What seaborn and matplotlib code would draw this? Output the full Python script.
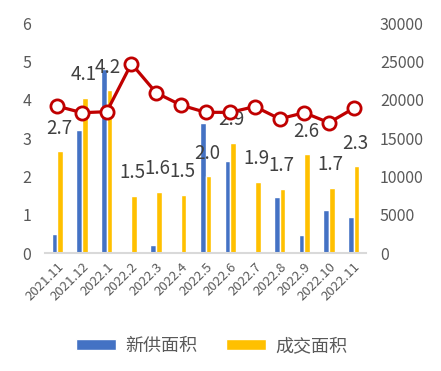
import matplotlib
matplotlib.use("Agg")
import matplotlib.pyplot as plt
import seaborn as sns
import numpy as np
import pandas as pd
from matplotlib.patches import Patch

months = ["2021.11", "2021.12", "2022.1", "2022.2", "2022.3", "2022.4", "2022.5",
          "2022.6", "2022.7", "2022.8", "2022.9", "2022.10", "2022.11"]
new_supply = [0.5, 3.2, 4.8, 0.0, 0.2, 0.0, 3.4, 2.4, 0.0, 1.46, 0.47, 1.12, 0.94]
deal_area = [2.66, 4.05, 4.24, 1.5, 1.6, 1.52, 2.0, 2.88, 1.86, 1.68, 2.58, 1.7, 2.26]
deal_labels = ["2.7", "4.1", "4.2", "1.5", "1.6", "1.5", "2.0", "2.9", "1.9", "1.7", "2.6", "1.7", "2.3"]
price = [19150, 18300, 18430, 24700, 20900, 19300, 18350, 18350, 19100, 17500, 18300, 17000, 18870]
series_names = ["新供面积", "成交面积"]

BLUE = "#4472C4"
YELLOW = "#FFC000"
RED = "#C00000"
TXT = "#595959"

sns.set_style("white")
plt.rcParams["font.family"] = ["Noto Sans CJK SC", "DejaVu Sans"]

df = pd.DataFrame({
    "month": months * 2,
    "value": new_supply + deal_area,
    "series": [series_names[0]] * len(months) + [series_names[1]] * len(months),
})

fig = plt.figure(figsize=(4.41, 3.71), dpi=100)
ax = fig.add_axes([0.102, 0.318, 0.728, 0.620])

sns.barplot(data=df, x="month", y="value", hue="series", hue_order=series_names,
            palette=[BLUE, YELLOW], width=0.46, gap=0, ax=ax, legend=False,
            saturation=1, errorbar=None)

ax.set_ylim(0, 6)
ax.set_xlim(-0.5, len(months) - 0.5)
ax.set_xlabel("")
ax.set_ylabel("")
for s in ["left", "right", "top"]:
    ax.spines[s].set_visible(False)
ax.spines["bottom"].set_color("#D9D9D9")
ax.spines["bottom"].set_linewidth(1.5)
ax.tick_params(axis="y", length=0, labelsize=11.5, labelcolor=TXT, pad=10)
ax.set_xticks(np.arange(len(months)))
ax.set_xticklabels(months, rotation=45, ha="right", rotation_mode="anchor",
                   fontsize=9.5, color=TXT)
ax.tick_params(axis="x", length=0, pad=5)
ax.set_xticks(np.arange(len(months) + 1) - 0.5, minor=True)
ax.tick_params(axis="x", which="minor", length=5, width=1.5, color="#D9D9D9")

# data labels above yellow bars
for patch, lab in zip(ax.containers[1], deal_labels):
    x = patch.get_x() + patch.get_width() / 2
    y = patch.get_height()
    ax.annotate(lab, (x, y), xytext=(-1, 16.5), textcoords="offset points",
                ha="center", va="center", fontsize=13.5, color="#404040", zorder=5)

ax2 = ax.twinx()
sns.lineplot(x=np.arange(len(months)), y=price, ax=ax2, color=RED, linewidth=2.3,
             marker="o", markersize=9.5, markerfacecolor="white",
             markeredgecolor=RED, markeredgewidth=2.0)
ax2.set_ylim(0, 30000)
ax2.set_yticks(np.arange(0, 30001, 5000))
for s in ["left", "right", "top", "bottom"]:
    ax2.spines[s].set_visible(False)
ax2.tick_params(axis="y", length=0, labelsize=11.5, labelcolor=TXT, pad=10)
ax2.set_ylabel("")

handles = [Patch(facecolor=BLUE), Patch(facecolor=YELLOW)]
fig.legend(handles, series_names, loc="center", bbox_to_anchor=(0.48, 0.068),
           ncol=2, frameon=False, fontsize=13, handlelength=2.2, handleheight=0.6,
           columnspacing=1.6, handletextpad=0.5, labelcolor=TXT)

fig.savefig("out.png", dpi=100)
